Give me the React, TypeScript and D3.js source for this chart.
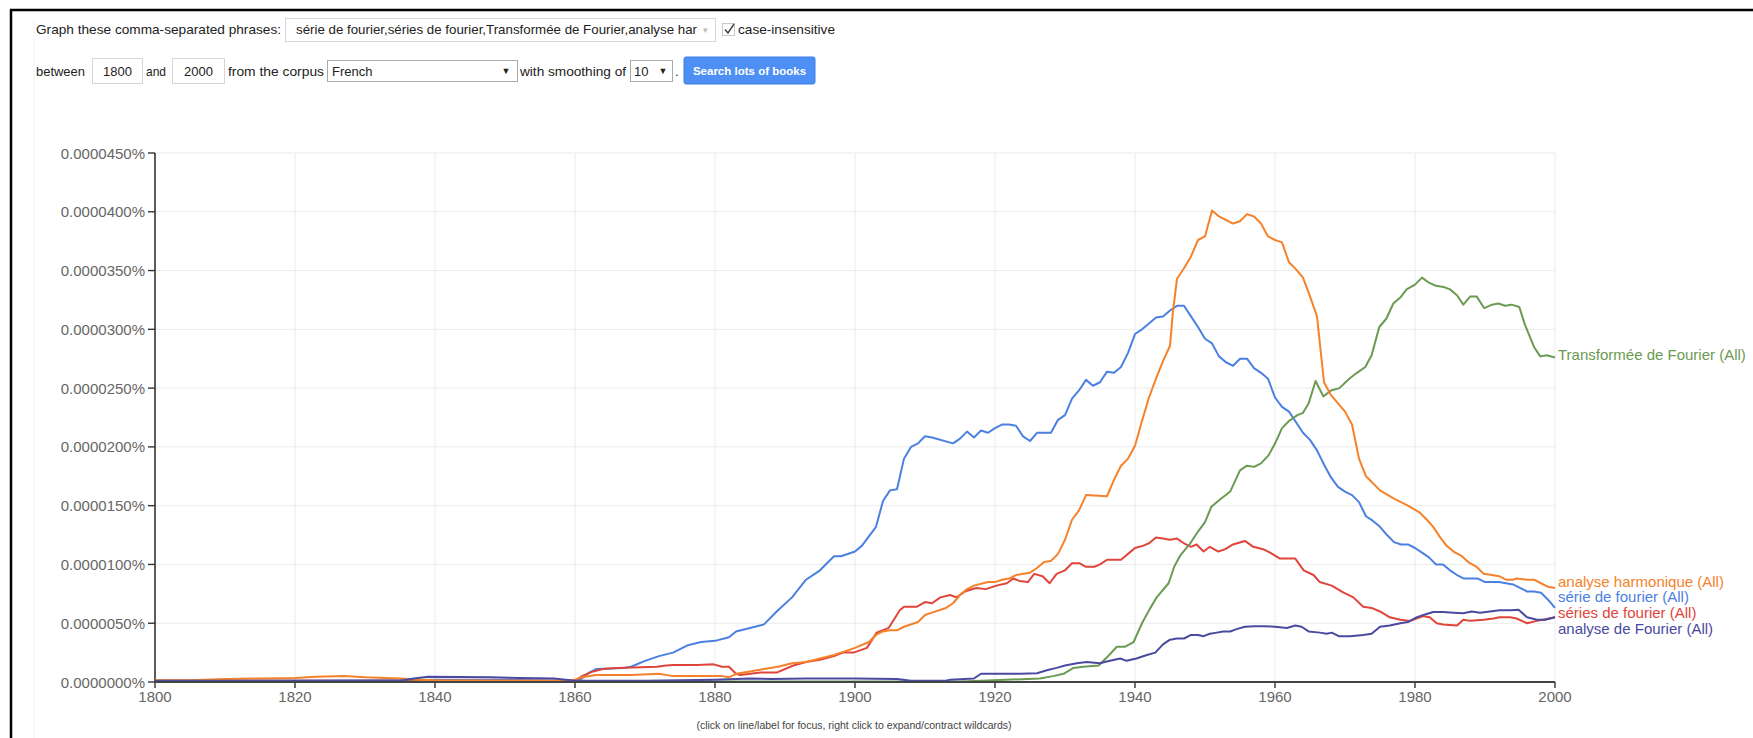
import React from 'react';
import * as d3 from 'd3';

type Pt = [number, number];

const seriesNames = ['série de fourier', 'séries de fourier', 'Transformée de Fourier', 'analyse harmonique', 'analyse de Fourier'];
const seriesColors = ['#4b80e2', '#e0453b', '#6b9a52', '#f5822a', '#4a4aa0'];

const serieDeFourier: Pt[] = [
  [1800, 0.01], [1820, 0.01], [1835, 0.015], [1840, 0.02], [1850, 0.02], [1858, 0.01], [1860, 0.0], [1861, 0.03],
  [1862, 0.08], [1863, 0.11], [1867, 0.12], [1868, 0.13], [1870, 0.18], [1872, 0.22], [1874, 0.25], [1876, 0.31],
  [1878, 0.34], [1880, 0.35], [1882, 0.38], [1883, 0.43], [1885, 0.46], [1887, 0.49], [1889, 0.61], [1891, 0.72],
  [1893, 0.87], [1895, 0.95], [1897, 1.07], [1898, 1.07], [1900, 1.11], [1901, 1.16], [1903, 1.32], [1904, 1.54],
  [1905, 1.63], [1906, 1.64], [1907, 1.9], [1908, 2.0], [1909, 2.03], [1910, 2.09], [1911, 2.08], [1914, 2.03],
  [1915, 2.07], [1916, 2.13], [1917, 2.08], [1918, 2.14], [1919, 2.12], [1920, 2.16], [1921, 2.19], [1922, 2.19],
  [1923, 2.18], [1924, 2.09], [1925, 2.05], [1926, 2.12], [1928, 2.12], [1929, 2.23], [1930, 2.27], [1931, 2.41],
  [1932, 2.48], [1933, 2.57], [1934, 2.52], [1935, 2.55], [1936, 2.64], [1937, 2.63], [1938, 2.68], [1939, 2.8],
  [1940, 2.96], [1941, 3.0], [1942, 3.05], [1943, 3.1], [1944, 3.11], [1945, 3.16], [1946, 3.2], [1947, 3.2],
  [1948, 3.11], [1949, 3.02], [1950, 2.92], [1951, 2.88], [1952, 2.77], [1953, 2.72], [1954, 2.69], [1955, 2.75],
  [1956, 2.75], [1957, 2.67], [1958, 2.63], [1959, 2.58], [1960, 2.42], [1961, 2.34], [1962, 2.3], [1963, 2.21],
  [1964, 2.12], [1965, 2.06], [1966, 1.97], [1967, 1.85], [1968, 1.74], [1969, 1.66], [1970, 1.62], [1971, 1.59],
  [1972, 1.53], [1973, 1.41], [1974, 1.37], [1975, 1.32], [1976, 1.25], [1977, 1.19], [1978, 1.17], [1979, 1.17],
  [1980, 1.14], [1981, 1.1], [1982, 1.06], [1983, 1.0], [1984, 1.0], [1985, 0.95], [1986, 0.91], [1987, 0.88],
  [1989, 0.88], [1990, 0.85], [1992, 0.85], [1993, 0.84], [1994, 0.83], [1995, 0.8], [1996, 0.77], [1997, 0.77],
  [1998, 0.76], [1999, 0.7], [2000, 0.63],
];

const seriesDeFourier: Pt[] = [
  [1800, 0.01], [1858, 0.01], [1860, 0.01], [1861, 0.05], [1862.6, 0.09], [1864, 0.11], [1866, 0.12], [1871.7, 0.13],
  [1873, 0.14], [1874, 0.145], [1877.5, 0.145], [1879.8, 0.15], [1881, 0.13], [1882, 0.13], [1883, 0.07], [1883.6, 0.06],
  [1886.5, 0.08], [1888.8, 0.08], [1891.2, 0.14], [1893, 0.17], [1895, 0.19], [1897, 0.22], [1898.3, 0.25], [1899.8, 0.25],
  [1901.7, 0.29], [1903.1, 0.42], [1904.8, 0.46], [1906.4, 0.61], [1907, 0.64], [1908.8, 0.64], [1910, 0.68], [1911, 0.67],
  [1912.2, 0.72], [1913.6, 0.74], [1914.5, 0.72], [1915.7, 0.77], [1917.3, 0.8], [1918.7, 0.79], [1920.2, 0.82], [1921.7, 0.84],
  [1922.6, 0.88], [1923.5, 0.86], [1924.7, 0.85], [1925.6, 0.92], [1926.8, 0.9], [1927.8, 0.84], [1928.8, 0.92], [1930, 0.95],
  [1931, 1.01], [1932.1, 1.01], [1933, 0.98], [1934.2, 0.98], [1935, 1.0], [1936, 1.04], [1938, 1.04], [1939, 1.09],
  [1940, 1.14], [1941.2, 1.16], [1942, 1.18], [1943, 1.23], [1944, 1.22], [1945, 1.21], [1946, 1.22], [1947, 1.18],
  [1948, 1.15], [1948.8, 1.17], [1949.8, 1.11], [1950.7, 1.15], [1951.9, 1.11], [1952.9, 1.13], [1954, 1.17], [1955.7, 1.2],
  [1956.9, 1.15], [1958.3, 1.13], [1959.3, 1.1], [1960.7, 1.05], [1962.9, 1.05], [1964.1, 0.95], [1965.5, 0.91], [1966.4, 0.85],
  [1968.1, 0.82], [1969.8, 0.76], [1971.2, 0.72], [1972.6, 0.64], [1973.8, 0.63], [1975, 0.6], [1976.4, 0.55], [1977.9, 0.53],
  [1979.3, 0.52], [1980.2, 0.54], [1981.2, 0.56], [1982.1, 0.55], [1983.1, 0.5], [1984, 0.49], [1985, 0.485], [1986, 0.48],
  [1986.9, 0.53], [1987.9, 0.52], [1989.8, 0.53], [1991.2, 0.54], [1992.1, 0.55], [1993.6, 0.55], [1994.5, 0.54], [1996, 0.5],
  [1997.4, 0.52], [1998.3, 0.53], [2000, 0.55],
];

const transformeeDeFourier: Pt[] = [
  [1800, 0.0], [1835, 0.005], [1860, 0.005], [1915, 0.005], [1918, 0.01], [1926.4, 0.03], [1928.3, 0.05], [1929.8, 0.07],
  [1931.2, 0.12], [1932.6, 0.13], [1934.8, 0.14], [1936, 0.21], [1937.4, 0.3], [1938.6, 0.3], [1939.8, 0.34], [1941, 0.5],
  [1942.1, 0.62], [1943.1, 0.72], [1944.8, 0.84], [1945.6, 0.98], [1946.5, 1.08], [1947.9, 1.18], [1949, 1.28], [1950, 1.36],
  [1950.9, 1.49], [1952.1, 1.55], [1953.6, 1.62], [1955, 1.8], [1956, 1.84], [1957, 1.83], [1958, 1.86], [1959.1, 1.93],
  [1960.1, 2.04], [1961, 2.16], [1962, 2.22], [1963.2, 2.27], [1964, 2.29], [1964.8, 2.37], [1965.8, 2.56], [1966.9, 2.43],
  [1968, 2.48], [1969.2, 2.5], [1970.6, 2.58], [1971.7, 2.63], [1972.9, 2.68], [1973.8, 2.78], [1974.9, 3.02], [1975.9, 3.09],
  [1976.9, 3.22], [1977.9, 3.27], [1978.8, 3.34], [1980, 3.38], [1981, 3.44], [1981.9, 3.4], [1983, 3.37], [1984.1, 3.36],
  [1985, 3.34], [1986, 3.29], [1986.9, 3.21], [1987.9, 3.28], [1988.8, 3.28], [1989.9, 3.18], [1991, 3.21], [1991.9, 3.22],
  [1992.9, 3.2], [1993.8, 3.21], [1994.9, 3.19], [1995.7, 3.04], [1997, 2.85], [1997.9, 2.77], [1998.8, 2.78], [2000, 2.76],
];

const analyseHarmonique: Pt[] = [
  [1800, 0.015], [1805, 0.015], [1810, 0.025], [1815, 0.03], [1820, 0.035], [1823, 0.045], [1827, 0.05], [1830, 0.04],
  [1835, 0.03], [1838, 0.02], [1840, 0.015], [1850, 0.01], [1858, 0.01], [1860, 0.02], [1861, 0.04], [1863, 0.06],
  [1868, 0.06], [1872, 0.07], [1874, 0.05], [1881, 0.05], [1882, 0.04], [1883, 0.07], [1885, 0.09], [1887, 0.11],
  [1889, 0.13], [1891, 0.16], [1893, 0.17], [1895, 0.2], [1897, 0.23], [1900, 0.29], [1902, 0.34], [1903, 0.4],
  [1904, 0.43], [1905, 0.44], [1906, 0.44], [1907, 0.47], [1909, 0.51], [1910, 0.57], [1911, 0.59], [1913, 0.63],
  [1914, 0.67], [1915, 0.74], [1916, 0.79], [1917, 0.82], [1919, 0.85], [1920, 0.85], [1921, 0.87], [1922, 0.88],
  [1923, 0.91], [1925, 0.93], [1926, 0.97], [1927, 1.02], [1928, 1.03], [1929, 1.09], [1930, 1.21], [1931, 1.38],
  [1932, 1.46], [1933, 1.59], [1936, 1.58], [1937, 1.72], [1938, 1.84], [1939, 1.9], [1940, 2.01], [1941, 2.22],
  [1942, 2.42], [1943, 2.58], [1944, 2.73], [1945, 2.86], [1945.4, 3.14], [1946, 3.43], [1947, 3.52], [1948, 3.62],
  [1949, 3.76], [1950, 3.79], [1951, 4.01], [1952, 3.96], [1953, 3.93], [1954, 3.9], [1955, 3.92], [1956, 3.98],
  [1957, 3.96], [1958, 3.9], [1959, 3.79], [1960, 3.76], [1961, 3.74], [1962, 3.57], [1963, 3.51], [1964, 3.44],
  [1965, 3.28], [1966, 3.11], [1967, 2.55], [1968, 2.44], [1969, 2.37], [1970, 2.3], [1971, 2.19], [1972, 1.9],
  [1973, 1.75], [1975, 1.63], [1977, 1.56], [1979, 1.5], [1980.7, 1.44], [1981.7, 1.38], [1982.6, 1.32], [1983.6, 1.23],
  [1984.5, 1.16], [1985.5, 1.11], [1986.7, 1.07], [1987.6, 1.02], [1988.8, 0.98], [1989.8, 0.92], [1991, 0.91], [1992, 0.9],
  [1993, 0.87], [1994, 0.87], [1994.5, 0.88], [1996, 0.87], [1997, 0.87], [1998, 0.84], [1999, 0.81], [2000, 0.8],
];

const analyseDeFourier: Pt[] = [
  [1800, 0.01], [1835, 0.01], [1837, 0.03], [1839, 0.045], [1848, 0.04], [1852, 0.035], [1857, 0.03], [1860, 0.01],
  [1870, 0.01], [1875, 0.015], [1880, 0.02], [1885, 0.03], [1888, 0.025], [1893, 0.03], [1900, 0.03], [1906, 0.025],
  [1908, 0.01], [1913, 0.01], [1913.6, 0.02], [1917, 0.03], [1918, 0.07], [1923.6, 0.07], [1926, 0.075], [1927.4, 0.1],
  [1928.8, 0.12], [1930, 0.14], [1931.7, 0.16], [1933.1, 0.17], [1935, 0.16], [1936.4, 0.18], [1937.9, 0.2], [1938.8, 0.18],
  [1940.2, 0.2], [1941.7, 0.23], [1942.9, 0.25], [1944, 0.32], [1945, 0.36], [1946, 0.37], [1947, 0.37], [1948, 0.4],
  [1949, 0.4], [1949.8, 0.39], [1950.7, 0.41], [1951.7, 0.42], [1952.6, 0.43], [1953.6, 0.43], [1954.5, 0.45], [1955.7, 0.47],
  [1957, 0.475], [1958.3, 0.475], [1960, 0.47], [1961.7, 0.46], [1962.9, 0.48], [1963.8, 0.47], [1964.8, 0.43], [1966.4, 0.42],
  [1967.4, 0.41], [1968.1, 0.42], [1969.1, 0.39], [1970.7, 0.39], [1972.6, 0.4], [1973.8, 0.41], [1975, 0.47], [1976.4, 0.48],
  [1977.9, 0.5], [1979, 0.51], [1980.2, 0.55], [1981.2, 0.57], [1982.6, 0.595], [1984, 0.595], [1985.5, 0.59], [1986.9, 0.585],
  [1988.1, 0.6], [1989.3, 0.59], [1990.7, 0.6], [1992.1, 0.61], [1993.6, 0.61], [1994.8, 0.615], [1996, 0.55], [1997.4, 0.53],
  [1998.6, 0.53], [2000, 0.55],
];

const seriesData: Pt[][] = [serieDeFourier, seriesDeFourier, transformeeDeFourier, analyseHarmonique, analyseDeFourier];

const yTicks = [0, 0.5, 1, 1.5, 2, 2.5, 3, 3.5, 4, 4.5];
const xTicks = [1800, 1820, 1840, 1860, 1880, 1900, 1920, 1940, 1960, 1980, 2000];

const phrasesText = 'série de fourier,séries de fourier,Transformée de Fourier,analyse har';
const footerText = '(click on line/label for focus, right click to expand/contract wildcards)';

const FONT = '"Liberation Sans", Arial, sans-serif';

function placeLabels(ideal: number[], gap: number): number[] {
  const order = ideal.map((v, i) => i).sort((a, b) => ideal[a] - ideal[b]);
  let clusters = order.map((i) => ({ members: [i], top: ideal[i] }));
  let changed = true;
  while (changed) {
    changed = false;
    for (let k = 0; k < clusters.length - 1; k++) {
      const a = clusters[k];
      const b = clusters[k + 1];
      const aBottom = a.top + (a.members.length - 1) * gap;
      if (b.top < aBottom + gap) {
        const members = [...a.members, ...b.members];
        const mean = members.reduce((s, m) => s + ideal[m], 0) / members.length;
        clusters.splice(k, 2, { members, top: mean - ((members.length - 1) * gap) / 2 });
        changed = true;
        break;
      }
    }
  }
  const out = new Array(ideal.length).fill(0);
  clusters.forEach((c) => c.members.forEach((m, j) => (out[m] = c.top + j * gap)));
  return out;
}

export default function App() {
  const x = d3.scaleLinear().domain([1800, 2000]).range([155, 1555]);
  const y = d3.scaleLinear().domain([0, 4.5]).range([682, 153]);
  const line = d3.line<Pt>().x((d) => x(d[0])).y((d) => y(d[1]));

  const ends = seriesData.map((s) => y(s[s.length - 1][1]));
  const labelY = placeLabels(ends, 15.6);

  const fmt = (t: number) => (t * 1e-5).toFixed(7) + '%';

  return (
    <svg
      width={1753}
      height={738}
      style={{ position: 'absolute', left: 0, top: 0, background: '#fff' }}
      fontFamily={FONT}
    >
      <rect x={0} y={0} width={1753} height={738} fill="#fff" />
      {/* frame */}
      <line x1={10} x2={1753} y1={10} y2={10} stroke="#000" strokeWidth={2.5} />
      <line x1={11} x2={11} y1={9} y2={738} stroke="#000" strokeWidth={2.5} />
      <line x1={34} x2={34} y1={20} y2={738} stroke="#f3f3f3" strokeWidth={1} />

      {/* controls row 1 */}
      <text x={36} y={29} dominantBaseline="central" fontSize={13} fill="#222" textLength={245} lengthAdjust="spacingAndGlyphs">
        Graph these comma-separated phrases:
      </text>
      <rect x={285.5} y={18.5} width={430} height={23} fill="#fff" stroke="#d6d6d6" />
      <text x={296} y={29.5} dominantBaseline="central" fontSize={13} fill="#222" textLength={401} lengthAdjust="spacingAndGlyphs">
        {phrasesText}
      </text>
      <text x={705} y={30} dominantBaseline="central" fontSize={9} fill="#bbb" textAnchor="middle">▾</text>
      <rect x={722.5} y={23.5} width={12} height={12} fill="#fff" stroke="#c8c8c8" />
      <path d="M725 29.5 L728 33 L734 24" fill="none" stroke="#444" strokeWidth={1.4} />
      <text x={738} y={29} dominantBaseline="central" fontSize={13} fill="#222" textLength={97} lengthAdjust="spacingAndGlyphs">
        case-insensitive
      </text>

      {/* controls row 2 */}
      <text x={36} y={71} dominantBaseline="central" fontSize={13} fill="#222" textLength={49} lengthAdjust="spacingAndGlyphs">between</text>
      <rect x={92.5} y={58.5} width={50} height={25} fill="#fff" stroke="#d6d6d6" />
      <text x={117.5} y={71} dominantBaseline="central" fontSize={13} fill="#222" textAnchor="middle">1800</text>
      <text x={146} y={71} dominantBaseline="central" fontSize={13} fill="#222" textLength={20} lengthAdjust="spacingAndGlyphs">and</text>
      <rect x={172.5} y={58.5} width={52} height={25} fill="#fff" stroke="#d6d6d6" />
      <text x={198.5} y={71} dominantBaseline="central" fontSize={13} fill="#222" textAnchor="middle">2000</text>
      <text x={228} y={71} dominantBaseline="central" fontSize={13} fill="#222" textLength={96} lengthAdjust="spacingAndGlyphs">from the corpus</text>
      <rect x={327.5} y={60.5} width={190} height={21} fill="#fff" stroke="#a9a9a9" />
      <text x={332} y={71} dominantBaseline="central" fontSize={13} fill="#222">French</text>
      <text x={506} y={71} dominantBaseline="central" fontSize={9} fill="#222" textAnchor="middle">▼</text>
      <text x={520} y={71} dominantBaseline="central" fontSize={13} fill="#222" textLength={106} lengthAdjust="spacingAndGlyphs">with smoothing of</text>
      <rect x={630.5} y={60.5} width={42} height={21} fill="#fff" stroke="#a9a9a9" />
      <text x={634} y={71} dominantBaseline="central" fontSize={13} fill="#222">10</text>
      <text x={663} y={71} dominantBaseline="central" fontSize={9} fill="#222" textAnchor="middle">▼</text>
      <text x={675} y={71} dominantBaseline="central" fontSize={13} fill="#222">.</text>
      <rect x={684} y={57} width={131} height={27} rx={2} fill="#4d8ff5" stroke="#3d7fe8" />
      <text x={749.5} y={70.5} dominantBaseline="central" fontSize={11.5} fontWeight="bold" fill="#fff" textAnchor="middle">
        Search lots of books
      </text>

      {/* grid */}
      {yTicks.filter((t) => t > 0).map((t) => (
        <line key={'gy' + t} x1={x(1800)} x2={x(2000)} y1={y(t)} y2={y(t)} stroke="#ebebeb" strokeWidth={1} />
      ))}
      {xTicks.filter((t) => t > 1800).map((t) => (
        <line key={'gx' + t} x1={x(t)} x2={x(t)} y1={y(4.5)} y2={y(0)} stroke="#ebebeb" strokeWidth={1} />
      ))}

      {/* y axis */}
      <line x1={x(1800)} x2={x(1800)} y1={y(4.5)} y2={y(0)} stroke="#333" strokeWidth={1.6} />
      {yTicks.map((t) => (
        <g key={'yt' + t}>
          <line x1={x(1800) - 7} x2={x(1800)} y1={y(t)} y2={y(t)} stroke="#333" strokeWidth={1.4} />
          <text x={x(1800) - 10} y={y(t)} dominantBaseline="central" textAnchor="end" fontSize={15} fill="#666">
            {fmt(t)}
          </text>
        </g>
      ))}

      {/* x axis */}
      {xTicks.map((t) => (
        <g key={'xt' + t}>
          <line x1={x(t)} x2={x(t)} y1={y(0)} y2={y(0) + 6} stroke="#333" strokeWidth={1.4} />
          <text x={x(t)} y={y(0) + 20} textAnchor="middle" fontSize={15} fill="#666">
            {t}
          </text>
        </g>
      ))}

      {/* lines */}
      {seriesData.map((s, i) => (
        <path key={'s' + i} d={line(s) || ''} fill="none" stroke={seriesColors[i]} strokeWidth={2} strokeLinejoin="round" />
      ))}
      <line x1={x(1800)} x2={x(2000)} y1={y(0)} y2={y(0)} stroke="#444" strokeWidth={2} />

      {/* end labels */}
      {seriesData.map((s, i) => (
        <text key={'l' + i} x={x(2000) + 3} y={labelY[i] - 3} dominantBaseline="central" fontSize={15} fill={seriesColors[i]}>
          {seriesNames[i] + ' (All)'}
        </text>
      ))}

      <text x={854} y={725} dominantBaseline="central" textAnchor="middle" fontSize={10.5} fill="#444">
        {footerText}
      </text>
    </svg>
  );
}
